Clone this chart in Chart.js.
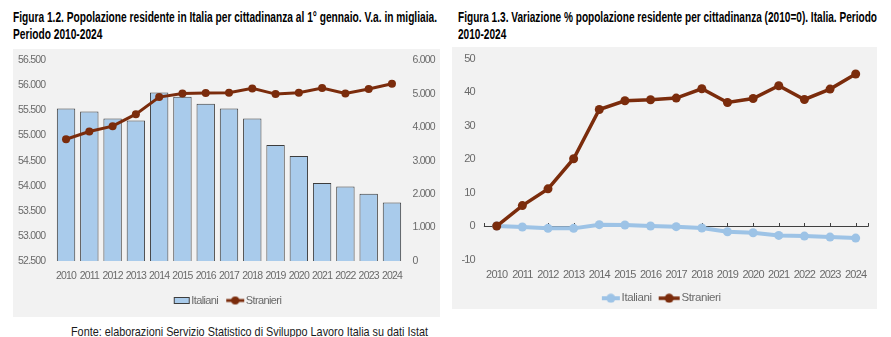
<!DOCTYPE html>
<html><head><meta charset="utf-8">
<script src="https://cdn.jsdelivr.net/npm/chart.js@4.4.1/dist/chart.umd.min.js"></script>
<style>
html,body{margin:0;padding:0;}
body{width:891px;height:337px;background:#fff;position:relative;overflow:hidden;font-family:"Liberation Sans Narrow","Arial Narrow","Liberation Sans",sans-serif;}
.panel{position:absolute;background:#f2f2f2;}
.title{position:absolute;font-weight:bold;font-size:14px;line-height:17px;color:#000;}
.fit{display:block;white-space:nowrap;transform-origin:0 0;width:max-content;}
.box{position:absolute;}
canvas{display:block;}
</style></head><body>
<div class="panel" style="left:13px;top:49px;width:427px;height:268px"></div>
<div class="panel" style="left:452px;top:47px;width:425px;height:262px"></div>

<div class="title" style="left:13px;top:9px"><span class="fit" data-w="424">Figura 1.2. Popolazione residente in Italia per cittadinanza al 1° gennaio. V.a. in migliaia.</span><span class="fit">Periodo 2010-2024</span></div>
<div class="title" style="left:458px;top:9px"><span class="fit" data-w="419">Figura 1.3. Variazione % popolazione residente per cittadinanza (2010=0). Italia. Periodo</span><span class="fit">2010-2024</span></div>
<div style="position:absolute;left:71px;top:324px;font-size:13px;line-height:15px;color:#1a1a1a"><span class="fit" data-w="357">Fonte: elaborazioni Servizio Statistico di Sviluppo Lavoro Italia su dati Istat</span></div>

<div class="box" style="left:13px;top:45px;width:427px;height:271px"><canvas id="c1"></canvas></div>
<div class="box" style="left:452px;top:43px;width:425px;height:271px"><canvas id="c2"></canvas></div>

<script>
// ---- data ----
const years = ['2010','2011','2012','2013','2014','2015','2016','2017','2018','2019','2020','2021','2022','2023','2024'];
const italianiMigliaia = [55540,55480,55340,55300,55860,55773,55633,55540,55340,54813,54593,54053,53987,53840,53667];
const stranieriMigliaia = [3640,3870,4030,4390,4900,5010,5020,5030,5160,4990,5030,5170,5010,5140,5300];
const italianiVarPct = [0,-0.3,-0.7,-0.7,0.4,0.3,0,-0.2,-0.6,-1.7,-2.0,-2.8,-3.0,-3.3,-3.6];
const stranieriVarPct = [0,6.1,11.1,20.1,34.8,37.4,37.7,38.2,41.0,36.9,38.1,41.9,37.8,40.9,45.4];
const seriesNames = ['Italiani','Stranieri'];

// ---- styles ----
const BROWN = '#7b2c0c';
const BAR = '#a9cbeb';
const BAR_BORDER = '#3d3d3d';
const LIGHT = '#9dc3e6';
const TXT = '#6a6a6a';
const FAM = "'Liberation Sans Narrow','Arial Narrow','Liberation Sans',sans-serif";

// fit title widths
document.querySelectorAll('[data-w]').forEach(el=>{
  const s = parseFloat(el.dataset.w)/el.getBoundingClientRect().width;
  el.parentElement.querySelectorAll('.fit').forEach(e=>{e.style.transform='scaleX('+s+')';});
});

function fmt(v){return String(v).replace(/\B(?=(\d{3})+(?!\d))/g,'.');}

// condensed-looking canvas text: tighter spacing for ticks, lighter for legend
function narrow(tickLS, legLS){
  return {id:'narrow',
    beforeLayout(chart){
      chart.ctx.letterSpacing=legLS;
      const lg=chart.legend;
      if(lg && !lg._wrapped){
        const d=lg.draw.bind(lg);
        lg.draw=function(a){const c=this.ctx;const p=c.letterSpacing;c.letterSpacing=legLS;d(a);c.letterSpacing=p;};
        lg._wrapped=true;
      }
    },
    beforeDraw(chart){chart.ctx.letterSpacing=tickLS;}
  };
}

// legend icons: drawn right-aligned inside a canvas so the text follows closely
function icon(W,h,w,draw){const c=document.createElement('canvas');c.width=W;c.height=h;const g=c.getContext('2d');g.translate(W-w-1,0);draw(g,w,h);return c;}
function boxIcon(W){return icon(W,7,16,(g,w,h)=>{g.fillStyle=BAR;g.fillRect(0,0,w,h);g.strokeStyle=BAR_BORDER;g.lineWidth=1;g.strokeRect(0.5,0.5,w-1,h-1);});}
function lineIcon(W,w,col,lw,r){return icon(W,10,w,(g,w,h)=>{g.strokeStyle=col;g.lineWidth=lw;g.beginPath();g.moveTo(0,h/2);g.lineTo(w,h/2);g.stroke();g.fillStyle=col;g.beginPath();g.arc(w/2,h/2,r,0,Math.PI*2);g.fill();});}

function legendOpts(icons, size, B){
  return {position:'bottom', labels:{usePointStyle:true, pointStyleWidth:B, padding:8, color:TXT,
    font:{family:FAM,size:size},
    generateLabels:(chart)=>chart.data.datasets.map((ds,i)=>({text:ds.label,pointStyle:icons[i],fillStyle:'rgba(0,0,0,0)',strokeStyle:'rgba(0,0,0,0)',lineWidth:0,hidden:false,datasetIndex:i,fontColor:TXT}))}};
}

const FS = 10.5;
// left legend: font 11, widest icon 18 -> B = 18 - 5.5 + 1
const B1 = 14, W1 = 24;
const icons1 = [boxIcon(W1), lineIcon(W1,18,BROWN,3,4)];

new Chart(document.getElementById('c1'), {
  type:'bar',
  data:{labels:years, datasets:[
    {type:'bar', label:seriesNames[0], data:italianiMigliaia, yAxisID:'y', backgroundColor:BAR, borderColor:BAR_BORDER, borderWidth:1, borderSkipped:false, barPercentage:0.79, categoryPercentage:1, order:2},
    {type:'line', label:seriesNames[1], data:stranieriMigliaia, yAxisID:'y1', borderColor:BROWN, backgroundColor:BROWN, borderWidth:3, pointRadius:4, pointBorderWidth:0, pointBackgroundColor:BROWN, tension:0, order:1}
  ]},
  options:{responsive:true, maintainAspectRatio:false, animation:false,
    layout:{padding:{top:0,left:0,right:0,bottom:0}},
    plugins:{legend:legendOpts(icons1,11,B1), tooltip:{enabled:false}},
    scales:{
      x:{grid:{display:false,drawTicks:false}, border:{display:false}, ticks:{color:TXT,font:{family:FAM,size:FS},padding:9,maxRotation:0,autoSkip:false}, afterFit(s){s.height=26;}},
      y:{position:'left',min:52500,max:56500,grid:{display:false,drawTicks:false},border:{display:false},ticks:{stepSize:500,callback:fmt,color:TXT,font:{family:FAM,size:FS},padding:9}, afterFit(s){s.width=41.4;}},
      y1:{position:'right',min:0,max:6000,grid:{display:false,drawTicks:false},border:{display:false},ticks:{stepSize:1000,callback:fmt,color:TXT,font:{family:FAM,size:FS},padding:9}, afterFit(s){s.width=36.4;}}
    }
  },
  plugins:[narrow('-0.8px','-0.6px')]
});

const zeroLine = {id:'zeroLine', beforeDatasetsDraw(chart){
  const {ctx, chartArea, scales:{x,y}} = chart;
  const yy = Math.round(y.getPixelForValue(0))+0.5;
  ctx.save(); ctx.strokeStyle='#404040'; ctx.lineWidth=1; ctx.beginPath();
  ctx.moveTo(chartArea.left,yy); ctx.lineTo(chartArea.right,yy);
  for(let i=0;i<years.length;i++){const xx=Math.round(x.getPixelForValue(i))+0.5; ctx.moveTo(xx,yy); ctx.lineTo(xx,yy-3.5);}
  const xr=Math.round(chartArea.right)-0.5; ctx.moveTo(xr,yy); ctx.lineTo(xr,yy-3.5);
  const xl=Math.round(chartArea.left)+0.5; ctx.moveTo(xl,yy); ctx.lineTo(xl,yy-3.5);
  ctx.stroke(); ctx.restore();
}};

const FS2 = 11;
// right legend: font 11.5, widest icon 21 -> B = 21 - 5.75 + 1
const B2 = 16, W2 = 26;
const icons2 = [lineIcon(W2,18,LIGHT,4,4.5), lineIcon(W2,21,BROWN,3.5,4.5)];

new Chart(document.getElementById('c2'), {
  type:'line',
  data:{labels:years, datasets:[
    {label:seriesNames[0], data:italianiVarPct, borderColor:LIGHT, backgroundColor:LIGHT, borderWidth:4, pointRadius:4.5, pointBorderWidth:0, pointBackgroundColor:LIGHT, tension:0, order:2},
    {label:seriesNames[1], data:stranieriVarPct, borderColor:BROWN, backgroundColor:BROWN, borderWidth:3.5, pointRadius:4.5, pointBorderWidth:0, pointBackgroundColor:BROWN, tension:0, order:1}
  ]},
  options:{responsive:true, maintainAspectRatio:false, animation:false,
    layout:{padding:{top:0,left:0,right:8.5,bottom:0}},
    plugins:{legend:legendOpts(icons2,11.5,B2), tooltip:{enabled:false}},
    scales:{
      x:{offset:true, grid:{display:false,drawTicks:false}, border:{display:false}, ticks:{color:TXT,font:{family:FAM,size:FS2},padding:9,maxRotation:0,autoSkip:false}, afterFit(s){s.height=25;}},
      y:{min:-10,max:50,grid:{display:false,drawTicks:false},border:{display:false},ticks:{stepSize:10,color:TXT,font:{family:FAM,size:FS2},padding:9}, afterFit(s){s.width=31.9;}}
    }
  },
  plugins:[zeroLine, narrow('-0.8px','-0.4px')]
});
</script>
</body></html>
